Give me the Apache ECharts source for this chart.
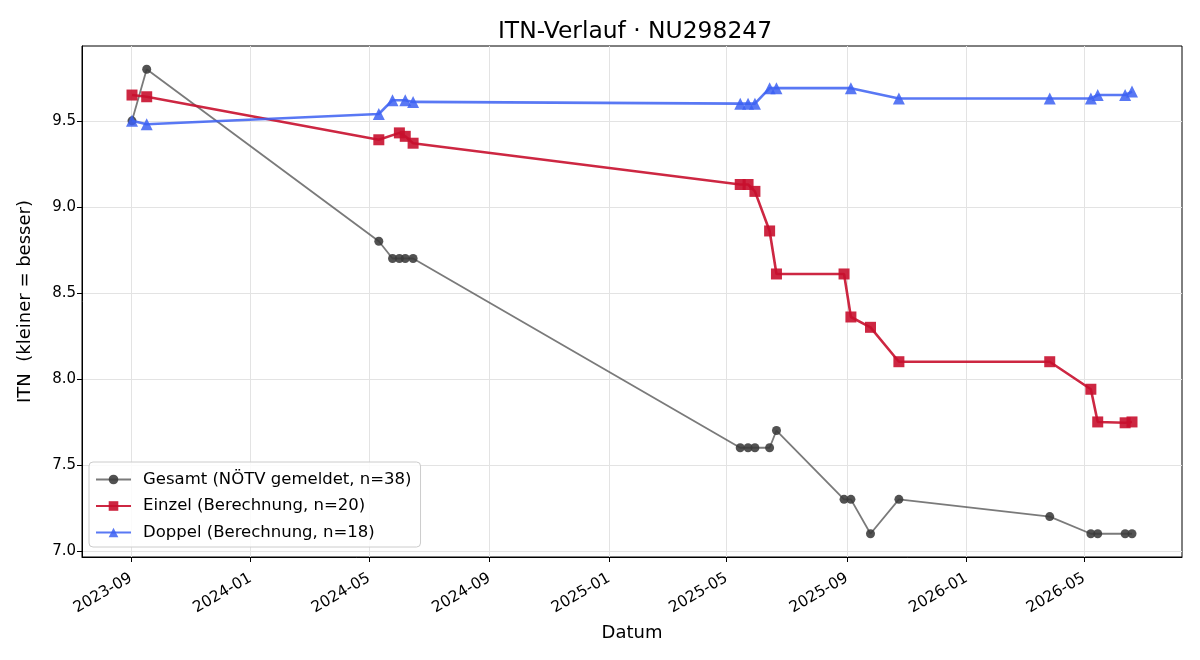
<!DOCTYPE html>
<html>
<head>
<meta charset="utf-8">
<title>ITN-Verlauf</title>
<script src="https://cdn.jsdelivr.net/npm/echarts@6/dist/echarts.min.js"></script>
<style>
    html, body { margin: 0; padding: 0; background: #fff; }
    #chart { width: 1200px; height: 660px; }
</style>
</head>
<body>
<div id="chart"></div>
<script>
// Gesamt (NÖTV gemeldet)
var gesamtDates = ['2023-09-02', '2023-09-17', '2024-05-11', '2024-05-25', '2024-06-01', '2024-06-07', '2024-06-15',
    '2025-05-15', '2025-05-23', '2025-05-30', '2025-06-14', '2025-06-21', '2025-08-29', '2025-09-05',
    '2025-09-25', '2025-10-24', '2026-03-27', '2026-05-08', '2026-05-15', '2026-06-12', '2026-06-19'];
var gesamtValues = [9.5, 9.8, 8.8, 8.7, 8.7, 8.7, 8.7,
    7.6, 7.6, 7.6, 7.6, 7.7, 7.3, 7.3,
    7.1, 7.3, 7.2, 7.1, 7.1, 7.1, 7.1];

// Einzel (Berechnung)
var einzelDates = ['2023-09-02', '2023-09-17', '2024-05-11', '2024-06-01', '2024-06-07', '2024-06-15',
    '2025-05-15', '2025-05-23', '2025-05-30', '2025-06-14', '2025-06-21', '2025-08-29', '2025-09-05',
    '2025-09-25', '2025-10-24', '2026-03-27', '2026-05-08', '2026-05-15', '2026-06-12', '2026-06-19'];
var einzelValues = [9.65, 9.64, 9.39, 9.43, 9.41, 9.37,
    9.13, 9.13, 9.09, 8.86, 8.61, 8.61, 8.36,
    8.30, 8.10, 8.10, 7.94, 7.75, 7.745, 7.75];

// Doppel (Berechnung)
var doppelDates = ['2023-09-02', '2023-09-17', '2024-05-11', '2024-05-25', '2024-06-07', '2024-06-15',
    '2025-05-15', '2025-05-23', '2025-05-30', '2025-06-14', '2025-06-21', '2025-09-05', '2025-10-24',
    '2026-03-27', '2026-05-08', '2026-05-15', '2026-06-12', '2026-06-19'];
var doppelValues = [9.50, 9.48, 9.54, 9.62, 9.62, 9.61,
    9.60, 9.60, 9.60, 9.69, 9.69, 9.69, 9.63,
    9.63, 9.63, 9.65, 9.65, 9.67];

// Achsenbeschriftung
var xTicks = ['2023-09-01', '2024-01-01', '2024-05-01', '2024-09-01', '2025-01-01',
    '2025-05-01', '2025-09-01', '2026-01-01', '2026-05-01'];
var yTicks = [7.0, 7.5, 8.0, 8.5, 9.0, 9.5];

function toTime(s) {
    var p = s.split('-');
    return new Date(+p[0], +p[1] - 1, +p[2]).getTime();
}
function pairs(dates, values) {
    return dates.map(function (d, i) { return [toTime(d), values[i]]; });
}

// Achsenbereich wie matplotlib (5 % Rand)
var allT = gesamtDates.concat(einzelDates, doppelDates).map(toTime);
var allV = gesamtValues.concat(einzelValues, doppelValues);
var tMin = Math.min.apply(null, allT), tMax = Math.max.apply(null, allT);
var vMin = Math.min.apply(null, allV), vMax = Math.max.apply(null, allV);
var tPad = (tMax - tMin) * 0.05, vPad = (vMax - vMin) * 0.05;

var fontFam = 'DejaVu Sans';
var xTickTimes = xTicks.map(toTime);

var option = {
    animation: false,
    backgroundColor: '#fff',
    textStyle: { fontFamily: fontFam, color: '#000' },
    title: {
        text: 'ITN-Verlauf · NU298247',
        left: 630,
        textAlign: 'center',
        top: 15,
        textStyle: { fontFamily: fontFam, fontSize: 23.4, fontWeight: 'normal', color: '#000' }
    },
    grid: {
        left: 82, right: 18, top: 46, bottom: 103,
        show: true, borderColor: '#000', borderWidth: 1, backgroundColor: 'transparent'
    },
    legend: {
        orient: 'vertical',
        left: 89,
        top: 462,
        itemWidth: 35,
        itemHeight: 12,
        itemGap: 9.5,
        padding: [9, 9, 6, 6],
        backgroundColor: 'rgba(255,255,255,0.85)',
        borderColor: '#cccccc',
        borderWidth: 1,
        borderRadius: 4,
        textStyle: { fontFamily: fontFam, fontSize: 16.5, color: '#000', padding: [0, 0, 0, 7] },
        data: ['Gesamt (NÖTV gemeldet, n=38)', 'Einzel (Berechnung, n=20)', 'Doppel (Berechnung, n=18)']
    },
    xAxis: {
        type: 'value',
        min: tMin - tPad,
        max: tMax + tPad,
        name: 'Datum',
        nameLocation: 'middle',
        nameGap: 67,
        nameTextStyle: { fontFamily: fontFam, fontSize: 18, color: '#000' },
        axisLine: { show: true, onZero: false, lineStyle: { color: '#000', width: 1 } },
        axisTick: { show: true, length: 5, lineStyle: { color: '#000' }, customValues: xTickTimes },
        axisLabel: {
            customValues: xTickTimes,
            rotate: 30,
            margin: 20,
            fontFamily: fontFam,
            fontSize: 15.5,
            color: '#000',
            formatter: function (v) {
                var d = new Date(v);
                var m = d.getMonth() + 1;
                return d.getFullYear() + '-' + (m < 10 ? '0' + m : m);
            }
        },
        splitLine: { show: true, lineStyle: { color: '#e3e3e3', width: 1 } }
    },
    yAxis: {
        type: 'value',
        min: vMin - vPad,
        max: vMax + vPad,
        name: 'ITN  (kleiner = besser)',
        nameLocation: 'middle',
        nameGap: 48,
        nameTextStyle: { fontFamily: fontFam, fontSize: 18, color: '#000' },
        axisLine: { show: true, lineStyle: { color: '#000', width: 1 } },
        axisTick: { show: true, length: 5, lineStyle: { color: '#000' }, customValues: yTicks },
        axisLabel: {
            customValues: yTicks,
            margin: 6,
            fontFamily: fontFam,
            fontSize: 15,
            color: '#000',
            formatter: function (v) { return v.toFixed(1); }
        },
        splitLine: { show: true, lineStyle: { color: '#e3e3e3', width: 1 } }
    },
    series: [
        {
            name: 'Gesamt (NÖTV gemeldet, n=38)',
            type: 'line',
            data: pairs(gesamtDates, gesamtValues),
            symbol: 'circle',
            symbolSize: 9,
            lineStyle: { color: '#555555', width: 1.8, opacity: 0.78 },
            itemStyle: { color: '#3a3a3a', opacity: 0.88 },
            z: 2
        },
        {
            name: 'Einzel (Berechnung, n=20)',
            type: 'line',
            data: pairs(einzelDates, einzelValues),
            symbol: 'rect',
            symbolSize: 11,
            lineStyle: { color: '#c8102e', width: 2.6, opacity: 0.9 },
            itemStyle: { color: '#c8102e', opacity: 0.9 },
            z: 3
        },
        {
            name: 'Doppel (Berechnung, n=18)',
            type: 'line',
            data: pairs(doppelDates, doppelValues),
            symbol: 'triangle',
            symbolSize: 12,
            lineStyle: { color: '#3c60f2', width: 2.6, opacity: 0.85 },
            itemStyle: { color: '#3c60f2', opacity: 0.85 },
            z: 4
        }
    ]
};

var chart = echarts.init(document.getElementById('chart'));
chart.setOption(option);
</script>
</body>
</html>
